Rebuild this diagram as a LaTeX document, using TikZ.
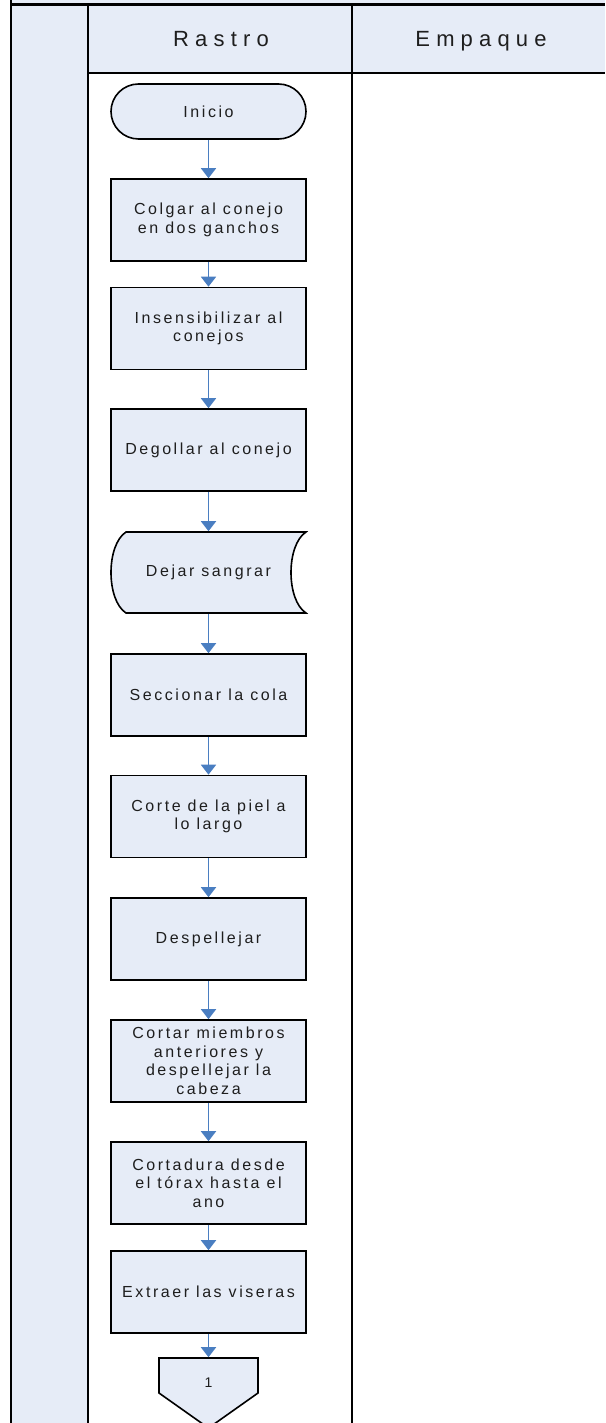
\documentclass[tikz,border=0pt]{standalone}
\usepackage{fontspec}
\setmainfont{Liberation Sans}
\newfontfamily\boxfont{Liberation Sans}[LetterSpace=16]
\newfontfamily\headfont{Liberation Sans}[LetterSpace=28]
\usetikzlibrary{arrows.meta}
\definecolor{lanefill}{RGB}{230,236,247}
\definecolor{arrowblue}{RGB}{74,126,193}
\definecolor{txt}{RGB}{30,30,30}
\tikzset{
 stepbox/.style={draw=black, line width=1.6pt, fill=lanefill, minimum width=195pt, minimum height=82pt, inner sep=0pt, align=center, font=\boxfont\fontsize{16}{18.5}\selectfont, text=txt},
 termbox/.style={stepbox, minimum height=55pt, rounded corners=27.5pt},
 ghost/.style={stepbox, draw=none, fill=none},
 flow/.style={draw=arrowblue, line width=1.8pt, -{Triangle[width=15pt,length=10pt]}},
 lane/.style={draw=black, line width=2pt},
 headtext/.style={font=\headfont\fontsize{22}{26}\selectfont, text=txt, anchor=base, inner sep=0pt},
 shapeline/.style={draw=black, line width=1.6pt, fill=lanefill},
}
\begin{document}
\begin{tikzpicture}[x=1pt,y=-1pt]
\useasboundingbox (0,0) rectangle (605,1423);
% backgrounds
\fill[lanefill] (11,0) rectangle (605,5);
\fill[lanefill] (11,5) rectangle (88,1423);
\fill[lanefill] (88,5) rectangle (605,73);
% lane lines
\draw[black, line width=1.5pt] (11,0) -- (11,1423);
\draw[lane] (88,5) -- (88,1423);
\draw[lane] (352,5) -- (352,1423);
\draw[lane] (88,73) -- (605,73);
\draw[black, line width=3pt] (11,5) -- (605,5);
% headers
\node[headtext] (hr) at (221,47) {Rastro};
\node[headtext] (he) at (481,47) {Empaque};
% special shapes
\draw[shapeline] (126,532) -- (306,532) .. controls (286,545) and (286,600) .. (306,613) -- (126,613) .. controls (106,600) and (106,545) .. (126,532) -- cycle;
\draw[shapeline] (159,1358) -- (258,1358) -- (258,1393) -- (208.5,1428) -- (159,1393) -- cycle;
% nodes
\node[termbox] (n0) at (208.5,111.5) {Inicio};
\node[stepbox] (n1) at (208.5,220) {Colgar al conejo\\en dos ganchos};
\node[stepbox] (n2) at (208.5,328.5) {Insensibilizar al\\conejos};
\node[stepbox] (n3) at (208.5,450) {Degollar al conejo};
\node[ghost, minimum height=81pt] (n4) at (208.5,572.5) {Dejar sangrar};
\node[stepbox] (n5) at (208.5,695) {Seccionar la cola};
\node[stepbox] (n6) at (208.5,816.5) {Corte de la piel a\\lo largo};
\node[stepbox] (n7) at (208.5,939) {Despellejar};
\node[stepbox] (n8) at (208.5,1061) {Cortar miembros\\anteriores y\\despellejar la\\cabeza};
\node[stepbox] (n9) at (208.5,1183) {Cortadura desde\\el tórax hasta el\\ano};
\node[stepbox] (n10) at (208.5,1292) {Extraer las viseras};
\node[ghost, minimum width=99pt, minimum height=50pt, font=\boxfont\fontsize{14}{16}\selectfont] (c1) at (208.5,1383) {1};
% connectors
\draw[flow] (n0) -- (n1);
\draw[flow] (n1) -- (n2);
\draw[flow] (n2) -- (n3);
\draw[flow] (n3) -- (n4);
\draw[flow] (n4) -- (n5);
\draw[flow] (n5) -- (n6);
\draw[flow] (n6) -- (n7);
\draw[flow] (n7) -- (n8);
\draw[flow] (n8) -- (n9);
\draw[flow] (n9) -- (n10);
\draw[flow] (n10) -- (c1);
\end{tikzpicture}
\end{document}
